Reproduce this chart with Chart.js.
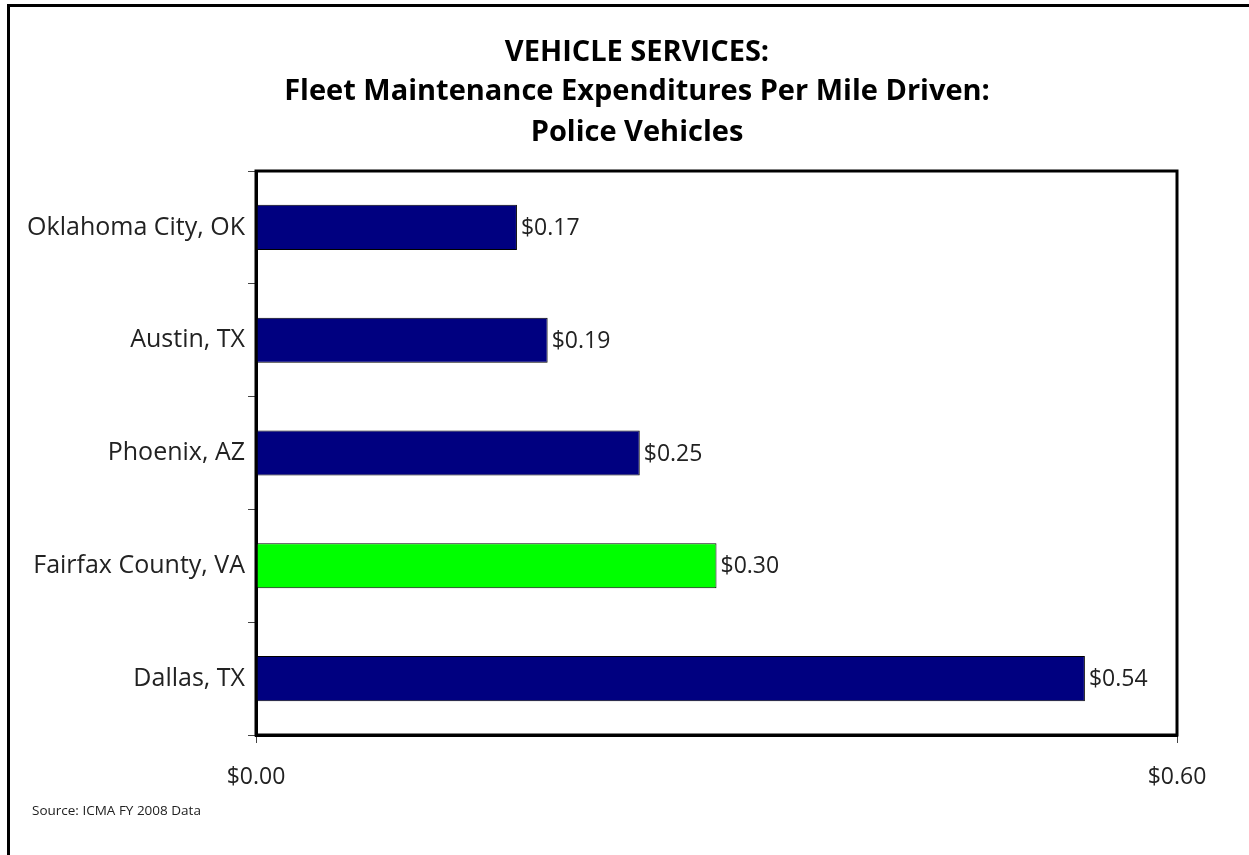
<!DOCTYPE html>
<html>
<head>
<meta charset="utf-8">
<script src="https://cdn.jsdelivr.net/npm/chart.js@4/dist/chart.umd.min.js"></script>
<style>
  html, body { margin: 0; padding: 0; background: #fff; }
  #wrap { width: 1249px; height: 855px; position: relative; }
</style>
</head>
<body>
<div id="wrap"><canvas id="c" width="1249" height="855"></canvas></div>
<script>
const categories = ["Oklahoma City, OK", "Austin, TX", "Phoenix, AZ", "Fairfax County, VA", "Dallas, TX"];
const values = [0.17, 0.19, 0.25, 0.30, 0.54];
const barColors = ["#000080", "#000080", "#000080", "#00FF00", "#000080"];
const titleLines = ["VEHICLE SERVICES:", "Fleet Maintenance Expenditures Per Mile Driven:", "Police Vehicles"];
const xTicks = [0, 0.6];
const sourceText = "Source: ICMA FY 2008 Data";

const FONT = "'Open Sans', sans-serif";

const framePlugin = {
  id: 'frame',
  afterDraw(chart) {
    const ctx = chart.ctx;
    const a = chart.chartArea;
    ctx.save();
    // outer frame (top and left visible)
    ctx.strokeStyle = '#000';
    ctx.lineWidth = 3;
    ctx.beginPath();
    ctx.moveTo(8.5, 855);
    ctx.lineTo(8.5, 5.5);
    ctx.lineTo(1249, 5.5);
    ctx.stroke();
    // plot area box
    ctx.strokeRect(a.left, a.top, a.right - a.left, a.bottom - a.top);
    // title
    ctx.fillStyle = '#000';
    ctx.font = "bold 29px " + FONT;
    ctx.textAlign = 'center';
    ctx.textBaseline = 'alphabetic';
    const baselines = [61, 100, 141];
    titleLines.forEach((t, i) => ctx.fillText(t, 637, baselines[i]));
    // data labels
    ctx.fillStyle = '#222';
    ctx.font = "23px " + FONT;
    ctx.textAlign = 'left';
    ctx.textBaseline = 'middle';
    const meta = chart.getDatasetMeta(0);
    meta.data.forEach((bar, i) => {
      ctx.fillText('$' + values[i].toFixed(2), bar.x + 4, bar.y + 1);
    });
    // source
    ctx.font = "13.5px " + FONT;
    ctx.fillStyle = '#222';
    ctx.textAlign = 'left';
    ctx.fillText(sourceText, 32, 811);
    ctx.restore();
  }
};

new Chart(document.getElementById('c'), {
  type: 'bar',
  data: {
    labels: categories,
    datasets: [{
      data: values,
      backgroundColor: barColors,
      borderColor: '#000',
      borderWidth: 1,
      borderSkipped: false,
      barPercentage: 0.4,
      categoryPercentage: 1.0
    }]
  },
  options: {
    indexAxis: 'y',
    responsive: false,
    animation: false,
    layout: { padding: { left: 10, right: 72, top: 171, bottom: 0 } },
    plugins: {
      legend: { display: false },
      tooltip: { enabled: false },
      title: { display: false }
    },
    scales: {
      x: {
        min: 0, max: 0.6,
        afterFit(scale) { scale.height = 120; },
        afterBuildTicks(scale) { scale.ticks = xTicks.map(v => ({ value: v })); },
        ticks: {
          color: '#222',
          font: { family: FONT, size: 23 },
          padding: 21,
          maxRotation: 0,
          callback: v => '$' + Number(v).toFixed(2)
        },
        grid: { drawOnChartArea: false, drawTicks: true, tickLength: 8, color: '#444' },
        border: { display: true, color: '#000', width: 3 }
      },
      y: {
        afterFit(scale) { scale.width = 246; },
        ticks: { color: '#222', font: { family: FONT, size: 25 }, padding: 3 },
        grid: { offset: true, drawOnChartArea: false, drawTicks: true, tickLength: 8, color: '#444' },
        border: { display: true, color: '#000', width: 3 }
      }
    }
  },
  plugins: [framePlugin]
});
</script>
</body>
</html>
